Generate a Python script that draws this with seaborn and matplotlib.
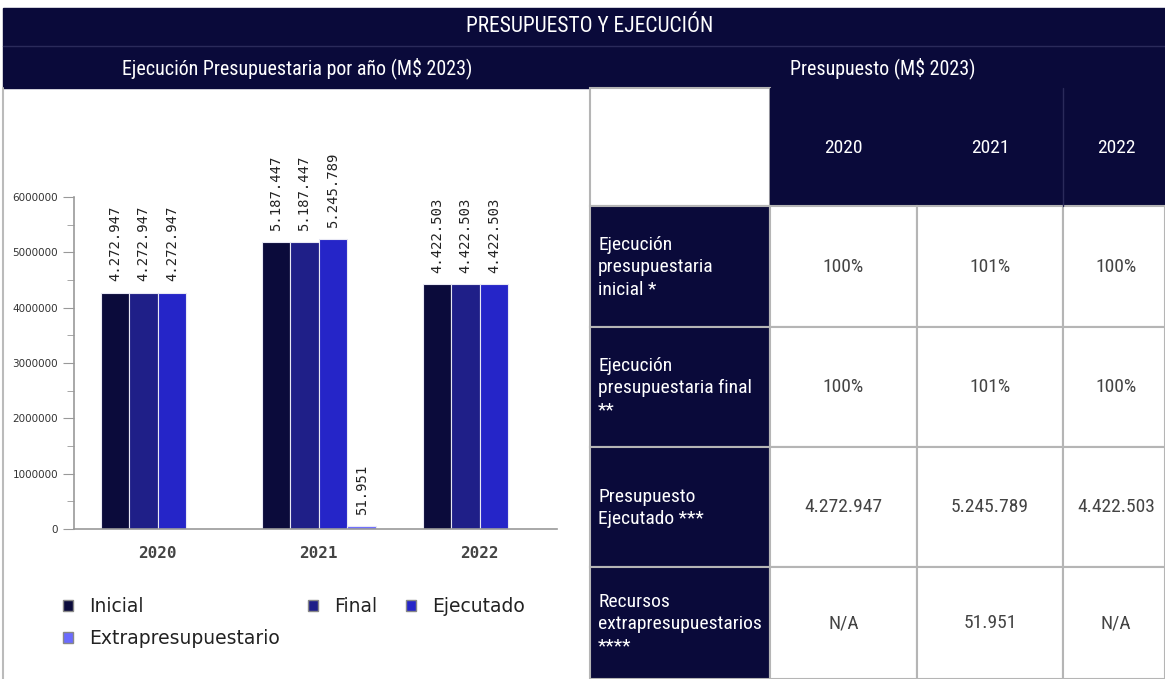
import numpy as np
import pandas as pd
import matplotlib
matplotlib.use("Agg")
import matplotlib.pyplot as plt
from matplotlib.patches import Rectangle, Patch
from matplotlib.ticker import MultipleLocator, FuncFormatter
from matplotlib import font_manager
import seaborn as sns

# data
years = ["2020", "2021", "2022"]
inicial = [4272947, 5187447, 4422503]
final = [4272947, 5187447, 4422503]
ejecutado = [4272947, 5245789, 4422503]
extra = [np.nan, 51951, np.nan]
series_names = ["Inicial", "Final", "Ejecutado", "Extrapresupuestario"]

row_labels = [
    "Ejecución\npresupuestaria\ninicial *",
    "Ejecución\npresupuestaria final\n**",
    "Presupuesto\nEjecutado ***",
    "Recursos\nextrapresupuestarios\n****",
]
row_values = [
    ["100%", "101%", "100%"],
    ["100%", "101%", "100%"],
    ["4.272.947", "5.245.789", "4.422.503"],
    ["N/A", "51.951", "N/A"],
]

navy = "#0a0a3a"
colors = ["#0b0b3b", "#1f1f88", "#2525c8", "#6b6bff"]

# pick a condensed face if one is installed
names = {f.name for f in font_manager.fontManager.ttflist}
cond = [n for n in ["Roboto Condensed", "Liberation Sans Narrow", "Open Sans Condensed",
                    "DejaVu Sans Condensed", "Noto Sans Condensed"] if n in names]
cond = cond + ["Roboto", "DejaVu Sans"]
stretch = "condensed"

sns.set_style("white")
plt.rcParams["font.family"] = ["DejaVu Sans"]

W, H = 1165, 679
fig = plt.figure(figsize=(W / 100, H / 100), dpi=100)

# background / table layer in pixel coordinates
bg = fig.add_axes([0, 0, 1, 1], zorder=0)
bg.set_xlim(0, W)
bg.set_ylim(H, 0)
bg.axis("off")

bg.add_patch(Rectangle((3, 8), W - 3, 80, color=navy))
bg.plot([3, W], [46, 46], color="#2a2a5a", lw=1)
bg.plot([3, 3], [88, H], color="#bbbbbb", lw=1.5)
bg.text(590, 26, "PRESUPUESTO Y EJECUCIÓN", color="white", fontsize=15.5,
        family=cond, stretch=stretch, ha="center", va="center")
bg.text(297, 68, "Ejecución Presupuestaria por año (M$ 2023)", color="white",
        fontsize=14.4, family=cond, stretch=stretch, ha="center", va="center")
bg.text(883, 68, "Presupuesto (M$ 2023)", color="white", fontsize=14.4,
        family=cond, stretch=stretch, ha="center", va="center")

col_x = [770, 917, 1063, W]
row_y = [88, 206, 327, 447, 567, H]
grid_c = "#b5b5b5"

# header row
bg.add_patch(Rectangle((590, 88), 180, 118, facecolor="white", edgecolor=grid_c, lw=1.5))
bg.add_patch(Rectangle((770, 88), W - 770, 118, color=navy))
bg.plot([1063, 1063], [88, 206], color="#2a2a5a", lw=1)
for j, yr in enumerate(years):
    cx = (col_x[j] + col_x[j + 1]) / 2 if j < 2 else 1116
    bg.text(cx, 148, yr, color="white", fontsize=14, family=cond,
            stretch=stretch, ha="center", va="center")

# body rows
for i, (lab, vals) in enumerate(zip(row_labels, row_values)):
    y0, y1 = row_y[i + 1], row_y[i + 2]
    bg.add_patch(Rectangle((590, y0), 180, y1 - y0, facecolor=navy,
                           edgecolor=grid_c, lw=1.5))
    bg.text(598, (y0 + y1) / 2 + 1, lab, color="white", fontsize=14, family=cond,
            stretch=stretch, ha="left", va="center", linespacing=1.3)
    for j, v in enumerate(vals):
        x0, x1 = col_x[j], col_x[j + 1]
        bg.add_patch(Rectangle((x0, y0), x1 - x0, y1 - y0, facecolor="white",
                               edgecolor=grid_c, lw=1.5))
        cx = (x0 + x1) / 2 if j < 2 else 1116
        bg.text(cx, (y0 + y1) / 2, v, color="#444444", fontsize=14,
                family=cond, stretch=stretch, ha="center", va="center")

# bar chart
rows = []
for name, vals in zip(series_names, [inicial, final, ejecutado, extra]):
    for yr, v in zip(years, vals):
        rows.append({"year": yr, "tipo": name, "monto": v})
df = pd.DataFrame(rows).dropna()

ax = fig.add_axes([74 / W, 1 - 529 / H, (557 - 74) / W, (529 - 197) / H], zorder=2)
ax.patch.set_alpha(0)
sns.barplot(data=df, x="year", y="monto", hue="tipo", hue_order=series_names,
            order=years, palette=colors, saturation=1, width=0.71,
            edgecolor="#e8e8f4", linewidth=0.8, errorbar=None, legend=False, ax=ax)

for cont in ax.containers:
    labels = [f"{b.get_height():,.0f}".replace(",", ".") for b in cont]
    ax.bar_label(cont, labels=labels, rotation=90, padding=8, fontsize=10,
                 family="DejaVu Sans Mono", color="#222222")

ax.set_xlim(-0.52, 2.48)
ax.set_ylim(0, 6000000)
ax.yaxis.set_major_locator(MultipleLocator(1000000))
ax.yaxis.set_minor_locator(MultipleLocator(500000))
ax.yaxis.set_major_formatter(FuncFormatter(lambda v, p: f"{int(v)}"))
ax.tick_params(axis="y", which="major", length=8, color="#999999", labelsize=7.5,
               labelcolor="#333333", left=True)
ax.tick_params(axis="y", which="minor", length=5, color="#999999", left=True)
ax.tick_params(axis="x", length=0, pad=12, labelsize=11.5, labelcolor="#444444")
for t in ax.get_xticklabels():
    t.set_family("DejaVu Sans Mono")
    t.set_fontweight("bold")
ax.set_xlabel("")
ax.set_ylabel("")
sns.despine(ax=ax)
ax.spines["left"].set_color("#999999")
ax.spines["bottom"].set_color("#999999")
ax.spines["left"].set_linewidth(1.2)
ax.spines["bottom"].set_linewidth(1.2)

# legend: order so that the first column holds Inicial above Extrapresupuestario
order = [0, 3, 1, 2]
handles = [Patch(facecolor=colors[k], edgecolor="#888888", label=series_names[k])
           for k in order]
fig.legend(handles=handles, loc="upper left", ncol=3,
           bbox_to_anchor=(63 / W, 1 - 597 / H), frameon=False, fontsize=13.5,
           handlelength=0.55, handleheight=0.55, handletextpad=0.85,
           columnspacing=1.5, labelspacing=0.7, borderpad=0, borderaxespad=0,
           labelcolor="#222222")

fig.savefig("out.png", dpi=100)
